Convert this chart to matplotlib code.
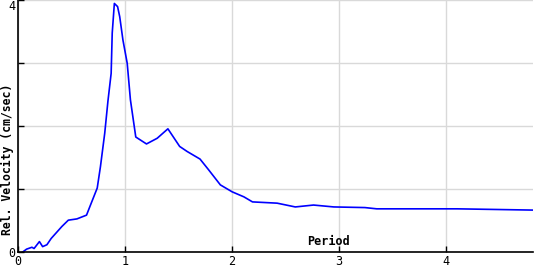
import matplotlib
matplotlib.use('Agg')
import matplotlib.pyplot as plt

# Period (s) and relative velocity (cm/sec)
period = [0.04, 0.08, 0.13, 0.15, 0.20, 0.23, 0.27, 0.31, 0.41, 0.47, 0.55,
          0.64, 0.67, 0.74, 0.77, 0.81, 0.84, 0.87, 0.88, 0.90, 0.93, 0.95,
          0.98, 1.02, 1.05, 1.10, 1.20, 1.30, 1.40, 1.51, 1.58, 1.70, 1.78,
          1.89, 2.00, 2.11, 2.19, 2.42, 2.59, 2.76, 2.95, 3.24, 3.35, 4.10,
          4.81]
velocity = [0.00, 0.05, 0.08, 0.06, 0.17, 0.09, 0.12, 0.22, 0.41, 0.51, 0.53,
            0.59, 0.72, 1.02, 1.36, 1.89, 2.40, 2.84, 3.48, 3.95, 3.90, 3.74,
            3.37, 3.00, 2.42, 1.83, 1.72, 1.81, 1.96, 1.68, 1.60, 1.48, 1.31,
            1.07, 0.96, 0.88, 0.80, 0.78, 0.72, 0.75, 0.72, 0.71, 0.69, 0.69,
            0.67]

x_ticks = [0, 1, 2, 3, 4]
y_ticks = [0, 1, 2, 3, 4]
y_tick_labels = ['0', '', '', '', '4']

mono = 'DejaVu Sans Mono'

fig = plt.figure(figsize=(5.4, 2.7), dpi=100)
ax = fig.add_axes([18 / 540, 17.7 / 270, 515 / 540, 252 / 270])

ax.plot(period, velocity, color='#0000ff', linewidth=1.2)

ax.set_xlim(0, 4.81)
ax.set_ylim(0, 4)
ax.set_xticks(x_ticks)
ax.set_xticklabels([str(t) for t in x_ticks], fontfamily=mono, fontsize=8.5)
ax.set_yticks(y_ticks)
ax.set_yticklabels(y_tick_labels, fontfamily=mono, fontsize=8.5)
ax.get_yticklabels()[-1].set_va('top')
ax.tick_params(direction='in', length=4, width=1, pad=2)
ax.grid(True, color='#d9d9d9', linewidth=1)
ax.set_axisbelow(True)

for side in ['top', 'right']:
    ax.spines[side].set_visible(False)
for side in ['left', 'bottom']:
    ax.spines[side].set_linewidth(1.2)

ax.text(2.9, 0.07, 'Period', fontfamily=mono, fontsize=8.5,
        fontweight='bold', ha='center', va='bottom')
fig.text(7.5 / 540, 1 - 159 / 270, 'Rel. Velocity (cm/sec)', fontfamily=mono,
         fontsize=8.3, fontweight='bold', rotation=90, ha='center', va='center')

fig.savefig('out.png', dpi=100)
